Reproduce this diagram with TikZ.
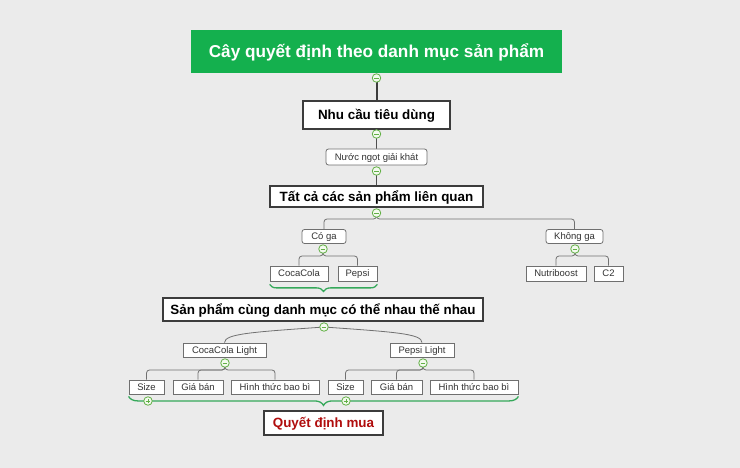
\documentclass[tikz,border=0pt]{standalone}
\usepackage{fontspec}
\setmainfont{Liberation Sans}
\usepackage{tikz}
\usetikzlibrary{positioning, calc, backgrounds, decorations.pathreplacing}
\definecolor{titlegreen}{HTML}{14B04E}
\definecolor{knobgreen}{HTML}{62B046}
\definecolor{knobfill}{HTML}{F3FAEE}
\definecolor{bracegreen}{HTML}{35A85A}
\definecolor{boxborder}{HTML}{3C3C3C}
\definecolor{leafborder}{HTML}{6F6F6F}
\definecolor{linegray}{HTML}{707070}
\definecolor{buyred}{HTML}{B00C0C}
\definecolor{canvasgray}{HTML}{EBEBEB}
\newcommand{\fork}[3]
{
	\draw[forkline] (#3.center) -- +(0,#1) -| (#2.north)
}

\begin{document}
\begin{tikzpicture}[x=1pt, y=-1pt,
	mainbox/.style={draw=boxborder, fill=white, line width=1.6pt, inner sep=0pt, text height=9.6pt, text depth=0pt, font={\fontsize{13.4}{15}\selectfont\bfseries}},
	leaf/.style={draw=leafborder, fill=white, line width=0.8pt, inner sep=0pt, text height=6.8pt, text depth=0pt, text=black!80, font={\fontsize{9.5}{11}\selectfont}},
	roundleaf/.style={leaf, rounded corners=2.5pt},
	knob/.style={circle, draw=knobgreen, fill=knobfill, line width=0.8pt, minimum size=8.5pt, inner sep=0pt,
		path picture={\draw[knobgreen, line width=0.8pt] ([xshift=-2.3pt]path picture bounding box.center) -- ([xshift=2.3pt]path picture bounding box.center);}},
	plusknob/.style={circle, draw=knobgreen, fill=knobfill, line width=0.8pt, minimum size=8.5pt, inner sep=0pt,
		path picture={\draw[knobgreen, line width=0.8pt] ([xshift=-2.3pt]path picture bounding box.center) -- ([xshift=2.3pt]path picture bounding box.center);
			\draw[knobgreen, line width=0.8pt] ([yshift=-2.3pt]path picture bounding box.center) -- ([yshift=2.3pt]path picture bounding box.center);}},
	forkline/.style={draw=linegray, line width=0.8pt, rounded corners=3pt},
	stemline/.style={draw=boxborder!90, line width=0.9pt},
	bracepath/.style={draw=bracegreen, line width=1.3pt, decorate}]

	\useasboundingbox (0,0) rectangle (740,468);

	\node[fill=titlegreen, text=white, inner sep=0pt, minimum width=371pt, minimum height=43pt, text height=12.3pt, text depth=0pt, font={\fontsize{17.2}{20}\selectfont\bfseries}] (title) at (376.5,51.5) {Cây quyết định theo danh mục sản phẩm};
	\node[mainbox, minimum width=147pt, minimum height=28pt] (needs) at (376.5,115) {Nhu cầu tiêu dùng};
	\node[roundleaf, minimum width=101pt, minimum height=16pt] (drink) at (376.5,157) {Nước ngọt giải khát};
	\node[mainbox, minimum width=213pt, minimum height=21pt] (related) at (376.5,196.5) {Tất cả các sản phẩm liên quan};

	\node[roundleaf, minimum width=44pt, minimum height=14pt] (gas) at (324,236.5) {Có ga};
	\node[roundleaf, minimum width=57pt, minimum height=14pt] (nogas) at (574.5,236.5) {Không ga};
	\node[leaf, minimum width=58pt, minimum height=15pt] (coca) at (299,273.5) {CocaCola};
	\node[leaf, minimum width=39pt, minimum height=15pt] (pepsi) at (357.5,273.5) {Pepsi};
	\node[leaf, minimum width=60pt, minimum height=15pt] (nutri) at (556,273.5) {Nutriboost};
	\node[leaf, minimum width=29pt, minimum height=15pt] (ctwo) at (608.5,273.5) {C2};

	\node[mainbox, minimum width=320pt, minimum height=23pt] (substitute) at (323,309.5) {Sản phẩm cùng danh mục có thể nhau thế nhau};
	\node[leaf, minimum width=83pt, minimum height=14pt] (cocalight) at (224.5,350) {CocaCola Light};
	\node[leaf, minimum width=64pt, minimum height=14pt] (pepsilight) at (422,350) {Pepsi Light};

	\node[leaf, minimum width=35pt, minimum height=14pt] (size1) at (146.5,387) {Size};
	\node[leaf, minimum width=50pt, minimum height=14pt] (price1) at (198,387) {Giá bán};
	\node[leaf, minimum width=88pt, minimum height=14pt] (pack1) at (275,387) {Hình thức bao bì};
	\node[leaf, minimum width=35pt, minimum height=14pt] (size2) at (345.5,387) {Size};
	\node[leaf, minimum width=51pt, minimum height=14pt] (price2) at (396.5,387) {Giá bán};
	\node[leaf, minimum width=88pt, minimum height=14pt] (pack2) at (474,387) {Hình thức bao bì};

	\node[mainbox, text=buyred, minimum width=119pt, minimum height=24pt] (buy) at (323.5,423) {Quyết định mua};

	\node[knob] (k0) at (376.5,78) {};
	\node[knob] (k1) at (376.5,134) {};
	\node[knob] (k2) at (376.5,171) {};
	\node[knob] (k3) at (376.5,213) {};
	\node[knob] (k4) at (323,249) {};
	\node[knob] (k5) at (575,249) {};
	\node[knob] (k6) at (324,327) {};
	\node[knob] (k7) at (225,363) {};
	\node[knob] (k8) at (423,363) {};
	\node[plusknob] (p1) at (148,401) {};
	\node[plusknob] (p2) at (346,401) {};

	\begin{pgfonlayer}{background}
	\fill[canvasgray] (0,0) rectangle (740,468);

	\draw[boxborder, line width=2pt] (k0.center) -- (needs.north);
	\draw[stemline] (k1.center) -- (drink.north);
	\draw[stemline] (k2.center) -- (related.north);

	\fork{6}{gas}{k3};
	\fork{6}{nogas}{k3};
	\fork{7}{coca}{k4};
	\fork{7}{pepsi}{k4};
	\fork{7}{nutri}{k5};
	\fork{7}{ctwo}{k5};
	\draw[forkline] (k6.center) .. controls +(-70,5) and +(0,-9) .. (cocalight.north);
	\draw[forkline] (k6.center) .. controls +(70,5) and +(0,-9) .. (pepsilight.north);
	\fork{7}{size1}{k7};
	\fork{7}{price1}{k7};
	\fork{7}{pack1}{k7};
	\fork{7}{size2}{k8};
	\fork{7}{price2}{k8};
	\fork{7}{pack2}{k8};

	\draw[bracepath, decoration={brace, mirror, amplitude=7pt}] ([yshift=-3pt]coca.south west) -- ([yshift=-3pt]pepsi.south east);
	\draw[bracepath, decoration={brace, mirror, amplitude=9pt}] ([yshift=-2pt]size1.south west) -- ([yshift=-2pt]pack2.south east);
	\end{pgfonlayer}
\end{tikzpicture}
\end{document}
